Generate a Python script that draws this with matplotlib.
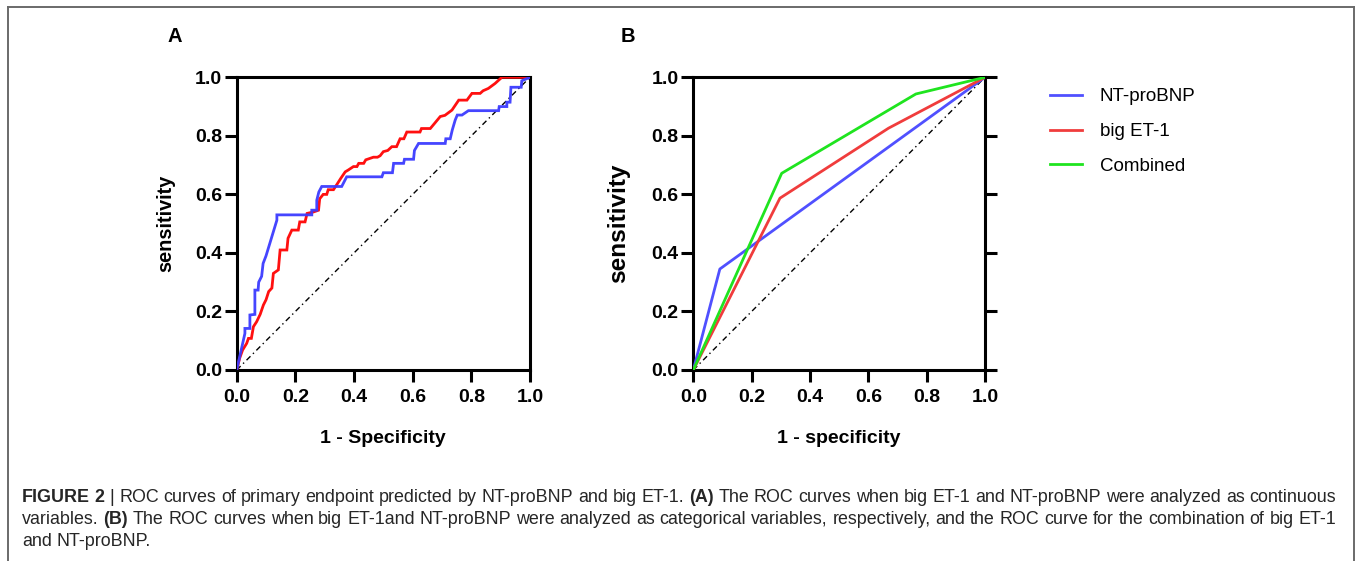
import matplotlib
matplotlib.use("Agg")
import matplotlib.pyplot as plt
from matplotlib.lines import Line2D
from matplotlib import font_manager

# ---------------- data ----------------
# Panel A: continuous ROC curves (1 - specificity, sensitivity)
a_ntprobnp_fpr = [0, 0.028, 0.028, 0.045, 0.045, 0.062, 0.062, 0.073, 0.075, 0.085, 0.09, 0.10, 0.137, 0.137,
                  0.154, 0.256, 0.256, 0.273, 0.273, 0.28, 0.29, 0.307, 0.358, 0.375, 0.495, 0.50, 0.531, 0.535,
                  0.569, 0.572, 0.603, 0.606, 0.62, 0.711, 0.713, 0.728, 0.735, 0.745, 0.752, 0.768, 0.79, 0.893,
                  0.895, 0.921, 0.921, 0.932, 0.935, 0.97, 0.972, 1.0]
a_ntprobnp_tpr = [0, 0.125, 0.142, 0.142, 0.188, 0.19, 0.273, 0.273, 0.30, 0.32, 0.364, 0.39, 0.512, 0.53,
                  0.53, 0.53, 0.546, 0.546, 0.58, 0.608, 0.627, 0.627, 0.627, 0.66, 0.66, 0.674, 0.674, 0.706,
                  0.706, 0.72, 0.72, 0.75, 0.774, 0.774, 0.79, 0.79, 0.82, 0.854, 0.871, 0.871, 0.886, 0.886,
                  0.9, 0.9, 0.915, 0.915, 0.966, 0.966, 0.988, 1.0]

a_bignet1_fpr = [0, 0.01, 0.02, 0.034, 0.04, 0.05, 0.057, 0.068, 0.08, 0.091, 0.10, 0.109, 0.12, 0.125, 0.142,
                 0.148, 0.171, 0.175, 0.188, 0.21, 0.215, 0.233, 0.24, 0.262, 0.279, 0.283, 0.295, 0.307, 0.312,
                 0.33, 0.341, 0.355, 0.37, 0.38, 0.398, 0.41, 0.416, 0.433, 0.44, 0.466, 0.48, 0.489, 0.50,
                 0.515, 0.529, 0.545, 0.557, 0.57, 0.58, 0.625, 0.63, 0.66, 0.675, 0.694, 0.71, 0.734, 0.757,
                 0.785, 0.802, 0.83, 0.84, 0.858, 0.881, 0.904, 1.0]
a_bignet1_tpr = [0, 0.04, 0.068, 0.091, 0.108, 0.108, 0.148, 0.165, 0.19, 0.222, 0.24, 0.268, 0.28, 0.33, 0.342,
                 0.41, 0.41, 0.45, 0.478, 0.478, 0.506, 0.506, 0.535, 0.54, 0.546, 0.585, 0.60, 0.60, 0.616,
                 0.616, 0.633, 0.655, 0.677, 0.683, 0.695, 0.695, 0.706, 0.706, 0.718, 0.727, 0.727, 0.732, 0.746,
                 0.75, 0.763, 0.763, 0.79, 0.79, 0.813, 0.813, 0.825, 0.825, 0.843, 0.866, 0.87, 0.888, 0.922,
                 0.922, 0.945, 0.945, 0.954, 0.962, 0.979, 1.0, 1.0]

# Panel B: categorical ROC curves
b_ntprobnp_fpr = [0, 0.091, 1.0]
b_ntprobnp_tpr = [0, 0.345, 1.0]
b_bignet1_fpr = [0, 0.297, 0.669, 1.0]
b_bignet1_tpr = [0, 0.587, 0.826, 1.0]
b_combined_fpr = [0, 0.303, 0.763, 1.0]
b_combined_tpr = [0, 0.672, 0.943, 1.0]

ticks = [0.0, 0.2, 0.4, 0.6, 0.8, 1.0]
tick_labels = ["0.0", "0.2", "0.4", "0.6", "0.8", "1.0"]
legend_labels = ["NT-proBNP", "big ET-1", "Combined"]

# ---------------- style ----------------
W, H = 1357, 561
FONT = "Liberation Sans"
BLUE_A, RED_A = "#3b3bff", "#ff1010"
BLUE_B, RED_B, GREEN_B = "#5050ff", "#f03c3c", "#1fe41f"

fig = plt.figure(figsize=(W / 100, H / 100), dpi=100)
plt.rcParams["font.family"] = [FONT, "DejaVu Sans"]

def px_axes(l, r, t, b):
    return fig.add_axes([l / W, 1 - b / H, (r - l) / W, (b - t) / H])

axA = px_axes(236.7, 530, 77.3, 370)
axB = px_axes(693.3, 985, 77.3, 370)

def style(ax, right_ticks=False):
    ax.set_xlim(0, 1)
    ax.set_ylim(0, 1)
    for s in ax.spines.values():
        s.set_linewidth(2.2)
        s.set_color("black")
    ax.set_xticks(ticks)
    ax.set_yticks(ticks)
    ax.set_xticklabels(tick_labels, fontweight="bold", fontsize=14)
    ax.set_yticklabels(tick_labels, fontweight="bold", fontsize=14)
    ax.tick_params(axis="both", direction="out", length=8.6, width=2.2, color="black")
    ax.tick_params(axis="x", pad=5)
    ax.tick_params(axis="y", pad=2)
    if right_ticks:
        ax.tick_params(axis="y", right=True, labelright=False)
    ax.plot([0, 1], [0, 1], color="black", lw=1.0, ls=(0, (4, 2.5, 1, 2.5)), zorder=2)

style(axA)
style(axB, right_ticks=True)

axA.plot(a_bignet1_fpr, a_bignet1_tpr, color=RED_A, lw=2.0, zorder=3, solid_joinstyle="miter")
axA.plot(a_ntprobnp_fpr, a_ntprobnp_tpr, color=BLUE_A, lw=2.0, zorder=4, alpha=0.95, solid_joinstyle="miter")

axB.plot(b_ntprobnp_fpr, b_ntprobnp_tpr, color=BLUE_B, lw=2.0, zorder=3)
axB.plot(b_bignet1_fpr, b_bignet1_tpr, color=RED_B, lw=2.0, zorder=4)
axB.plot(b_combined_fpr, b_combined_tpr, color=GREEN_B, lw=2.0, zorder=5)

axA.set_xlabel("1 - Specificity", fontweight="bold", fontsize=14)
axA.set_ylabel("sensitivity", fontweight="bold", fontsize=14.3)
axB.set_xlabel("1 - specificity", fontweight="bold", fontsize=14)
axB.set_ylabel("sensitivity", fontweight="bold", fontsize=17.6)
axA.xaxis.set_label_coords(0.5, -0.205)
axB.xaxis.set_label_coords(0.5, -0.205)
axA.yaxis.set_label_coords(-0.21, 0.5)
axB.yaxis.set_label_coords(-0.217, 0.5)

fig.text(175 / W, 1 - 37 / H, "A", fontweight="bold", fontsize=14.5, ha="center", va="center")
fig.text(628 / W, 1 - 37 / H, "B", fontweight="bold", fontsize=14.5, ha="center", va="center")

handles = [Line2D([], [], color=c, lw=2.0) for c in (BLUE_B, RED_B, GREEN_B)]
fig.legend(handles, legend_labels, loc="upper left", bbox_to_anchor=(1050 / W, 1 - 88 / H),
           frameon=False, fontsize=13.5, handlelength=1.7, handletextpad=0.95, labelspacing=0.95,
           borderpad=0, borderaxespad=0)

# ---------------- frame ----------------
fig.add_artist(Line2D([7.5 / W, 7.5 / W], [0, 1 - 6.5 / H], transform=fig.transFigure, color="#6a6a6a", lw=1.4))
fig.add_artist(Line2D([7.5 / W, 1353.5 / W], [1 - 6.5 / H, 1 - 6.5 / H], transform=fig.transFigure, color="#6a6a6a", lw=1.4))
fig.add_artist(Line2D([1353.5 / W, 1353.5 / W], [0, 1 - 6.5 / H], transform=fig.transFigure, color="#6a6a6a", lw=1.4))

# ---------------- caption ----------------
cap_lines = [
    [("FIGURE", True), ("2", True), ("|", False), ("ROC", False), ("curves", False), ("of", False),
     ("primary", False), ("endpoint", False), ("predicted", False), ("by", False), ("NT-proBNP", False),
     ("and", False), ("big", False), ("ET-1.", False), ("(A)", True), ("The", False), ("ROC", False),
     ("curves", False), ("when", False), ("big", False), ("ET-1", False), ("and", False), ("NT-proBNP", False),
     ("were", False), ("analyzed", False), ("as", False), ("continuous", False)],
    [("variables.", False), ("(B)", True), ("The", False), ("ROC", False), ("curves", False), ("when", False),
     ("big", False), ("ET-1and", False), ("NT-proBNP", False), ("were", False), ("analyzed", False), ("as", False),
     ("categorical", False), ("variables,", False), ("respectively,", False), ("and", False), ("the", False),
     ("ROC", False), ("curve", False), ("for", False), ("the", False), ("combination", False), ("of", False),
     ("big", False), ("ET-1", False)],
    [("and", False), ("NT-proBNP.", False)],
]
cap_y = [497, 519, 541]
cap_x0, cap_x1 = 22, 1336
justify = [True, True, False]

avail = {f.name for f in font_manager.fontManager.ttflist}
cap_font = "Liberation Sans Narrow" if "Liberation Sans Narrow" in avail else FONT
renderer = fig.canvas.get_renderer()

def width_of(s, bold, fs):
    t = fig.text(0, 0, s, fontsize=fs, family=cap_font, fontweight="bold" if bold else "normal")
    w = t.get_window_extent(renderer).width
    t.remove()
    return w

# choose font size so that the first line's natural width fits the target
fs0 = 12.0
sp0 = width_of("a a", False, fs0) - width_of("aa", False, fs0)
nat = sum(width_of(w, b, fs0) for w, b in cap_lines[0]) + sp0 * (len(cap_lines[0]) - 1)
fs = fs0 * (cap_x1 - cap_x0) / nat
sp = width_of("a a", False, fs) - width_of("aa", False, fs)

for words, y, just in zip(cap_lines, cap_y, justify):
    widths = [width_of(w, b, fs) for w, b in words]
    gap = (cap_x1 - cap_x0 - sum(widths)) / (len(words) - 1) if just else sp
    x = cap_x0
    for (w, b), wd in zip(words, widths):
        fig.text(x / W, 1 - y / H, w, fontsize=fs, family=cap_font, color="#262626",
                 fontweight="bold" if b else "normal", ha="left", va="center")
        x += wd + gap

fig.savefig("out.png", dpi=100)
